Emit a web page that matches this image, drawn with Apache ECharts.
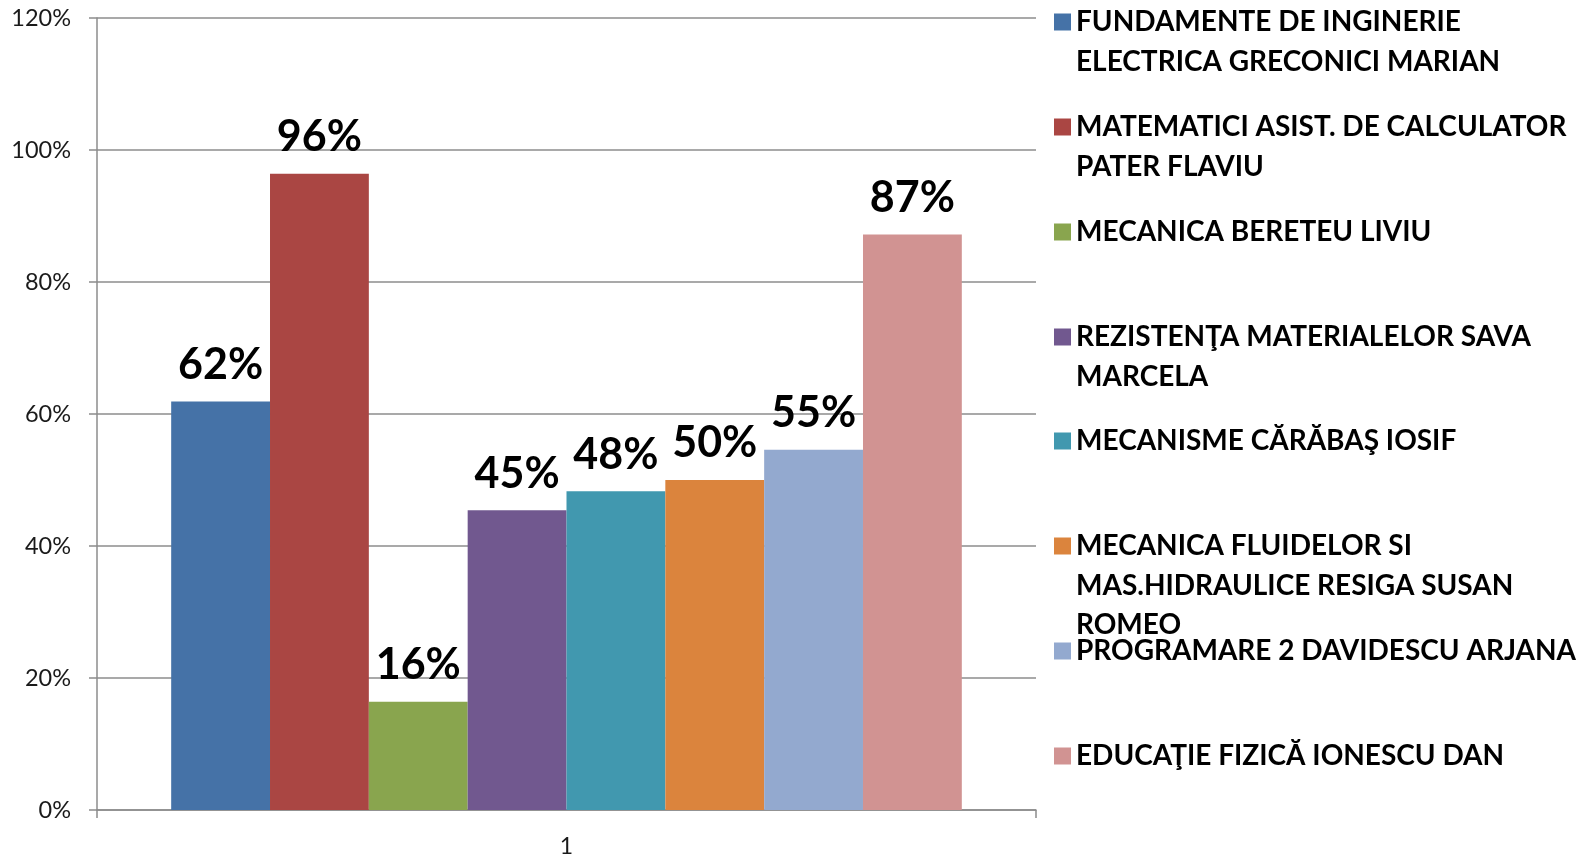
<!DOCTYPE html>
<html>
<head>
<meta charset="utf-8">
<script src="https://cdn.jsdelivr.net/npm/echarts@6/dist/echarts.min.js"></script>
<style>
  html, body { margin: 0; padding: 0; background: #fff; }
  #chart { width: 1590px; height: 858px; }
</style>
</head>
<body>
<div id="chart"></div>
<script>
// ---- data ----
const categories = ['1'];
const subjects = [
  'FUNDAMENTE DE INGINERIE ELECTRICA GRECONICI MARIAN',
  'MATEMATICI ASIST. DE CALCULATOR PATER FLAVIU',
  'MECANICA BERETEU LIVIU',
  'REZISTENŢA MATERIALELOR SAVA MARCELA',
  'MECANISME CĂRĂBAŞ IOSIF',
  'MECANICA FLUIDELOR SI MAS.HIDRAULICE RESIGA SUSAN ROMEO',
  'PROGRAMARE 2 DAVIDESCU ARJANA',
  'EDUCAŢIE FIZICĂ IONESCU DAN'
];
const legendLines = [
  ['FUNDAMENTE DE INGINERIE', 'ELECTRICA GRECONICI MARIAN'],
  ['MATEMATICI ASIST. DE CALCULATOR', 'PATER FLAVIU'],
  ['MECANICA BERETEU LIVIU'],
  ['REZISTENŢA MATERIALELOR SAVA', 'MARCELA'],
  ['MECANISME CĂRĂBAŞ IOSIF'],
  ['MECANICA FLUIDELOR SI', 'MAS.HIDRAULICE RESIGA SUSAN', 'ROMEO'],
  ['PROGRAMARE 2 DAVIDESCU ARJANA'],
  ['EDUCAŢIE FIZICĂ IONESCU DAN']
];
const values = [0.619, 0.964, 0.164, 0.454, 0.483, 0.500, 0.546, 0.872];
const colors = ['#4572A7', '#AA4643', '#89A54E', '#71588F', '#4198AF', '#DB843D', '#93A9CF', '#D19392'];
const yTicks = [0, 0.2, 0.4, 0.6, 0.8, 1.0, 1.2];

// ---- chart ----
const FONT = 'Lato, "Open Sans", sans-serif';
const LH = 39.5;
const legendIconCenters = [22, 127, 232, 337, 441, 546, 651, 756];

const chart = echarts.init(document.getElementById('chart'), null, { renderer: 'canvas' });

// Text is vertically centred on the icon; blank lines above push the first
// real line level with the icon, as in the reference.
const legends = subjects.map((name, i) => {
  const n = legendLines[i].length;
  return {
    orient: 'vertical',
    left: 1054,
    top: legendIconCenters[i] - (2 * n - 1) * LH / 2,
    padding: 0,
    itemWidth: 17,
    itemHeight: 17,
    selectedMode: false,
    icon: 'rect',
    data: [name],
    formatter: (nm) => {
      const lines = legendLines[subjects.indexOf(nm)];
      return new Array(lines.length - 1).fill(' ').concat(lines).join('\n');
    },
    textStyle: { fontFamily: FONT, fontWeight: 'bold', fontSize: 28, lineHeight: LH, color: '#000' }
  };
});

const series = subjects.map((name, i) => ({
  name: name,
  type: 'bar',
  data: [values[i]],
  barGap: '0%',
  barCategoryGap: '15.8%',
  itemStyle: { color: colors[i] },
  label: {
    show: true,
    position: 'top',
    distance: 15,
    formatter: (p) => Math.round(p.value * 100) + '%',
    fontFamily: FONT,
    fontWeight: 'bold',
    fontSize: 43,
    color: '#000'
  }
}));

chart.setOption({
  backgroundColor: '#fff',
  animation: false,
  color: colors,
  grid: { left: 97, top: 18, width: 939, height: 795, containLabel: false },
  legend: legends,
  xAxis: {
    type: 'category',
    data: categories,
    boundaryGap: true,
    axisLine: { show: true, lineStyle: { color: '#8c8c8c', width: 1.5 } },
    axisTick: { show: true, length: 8, lineStyle: { color: '#8c8c8c', width: 1.5 } },
    axisLabel: { margin: 25, fontFamily: FONT, fontSize: 23, color: '#1a1a1a' },
    splitLine: { show: false }
  },
  yAxis: {
    type: 'value',
    min: yTicks[0],
    max: yTicks[yTicks.length - 1],
    interval: 0.2,
    axisLine: { show: true, lineStyle: { color: '#8c8c8c', width: 1.5 } },
    axisTick: { show: true, length: 8, lineStyle: { color: '#8c8c8c', width: 1.5 } },
    axisLabel: {
      margin: 26,
      fontFamily: FONT,
      fontSize: 23.5,
      color: '#1a1a1a',
      formatter: (v) => Math.round(v * 100) + '%'
    },
    splitLine: { show: true, lineStyle: { color: '#8c8c8c', width: 1.5 } }
  },
  series: series
});
</script>
</body>
</html>
